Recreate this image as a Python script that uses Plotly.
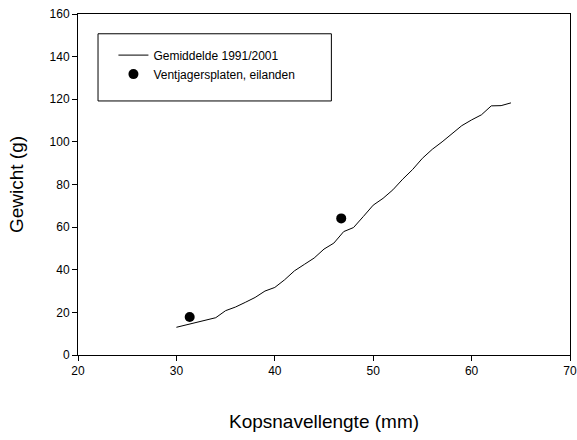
import plotly.graph_objects as go

# Data
length_mm = [30, 31, 32, 33, 34, 35, 36, 37, 38, 39, 40, 41, 42, 43, 44, 45, 46,
             47, 48, 49, 50, 51, 52, 53, 54, 55, 56, 57, 58, 59, 60, 61, 62, 63, 64]
mean_weight = [13.0, 14.2, 15.3, 16.3, 17.5, 20.8, 22.5, 24.7, 27.0, 30.0, 31.7,
               35.3, 39.5, 42.5, 45.5, 49.7, 52.5, 57.9, 59.8, 65.0, 70.3, 73.5,
               77.5, 82.5, 87.0, 92.3, 96.5, 100.0, 103.7, 107.6, 110.3, 112.7,
               116.9, 117.0, 118.3]
site_length = [31.35, 46.75]
site_weight = [17.8, 64.1]

x_ticks = [20, 30, 40, 50, 60, 70]
y_ticks = [0, 20, 40, 60, 80, 100, 120, 140, 160]

FONT = "Arial, 'Liberation Sans', sans-serif"

fig = go.Figure()
fig.add_trace(go.Scatter(
    x=length_mm, y=mean_weight, mode="lines",
    name="Gemiddelde 1991/2001",
    line=dict(color="#000000", width=1),
))
fig.add_trace(go.Scatter(
    x=site_length, y=site_weight, mode="markers",
    name="Ventjagersplaten, eilanden",
    marker=dict(color="#000000", size=10),
))

axis_common = dict(
    showgrid=False, zeroline=False, automargin=False,
    showline=True, linecolor="#000000", linewidth=1, mirror=True,
    ticks="outside", ticklen=5, tickwidth=1, tickcolor="#000000",
    tickfont=dict(family=FONT, size=12, color="#000000"),
)

fig.update_layout(
    width=577, height=440,
    margin=dict(l=78, r=7, t=14, b=85),
    paper_bgcolor="white", plot_bgcolor="white",
    font=dict(family=FONT, color="#000000"),
    xaxis=dict(range=[20, 70], tickvals=x_ticks,
               title=dict(text="Kopsnavellengte (mm)", font=dict(family=FONT, size=19), standoff=37),
               **axis_common),
    yaxis=dict(range=[0, 160], tickvals=y_ticks,
               title=dict(text="Gewicht (g)", font=dict(family=FONT, size=19), standoff=20),
               **axis_common),
    showlegend=True,
    legend=dict(x=0.072, y=0.922, xanchor="left", yanchor="top",
                bgcolor="rgba(0,0,0,0)", borderwidth=0,
                font=dict(family=FONT, size=12, color="#000000"),
                tracegroupgap=0),
    shapes=[dict(type="rect", xref="paper", yref="paper",
                 x0=0.0407, x1=0.515, y0=0.745, y1=0.942,
                 line=dict(color="#000000", width=1), fillcolor="rgba(0,0,0,0)")],
)

fig.write_html("out.html")
